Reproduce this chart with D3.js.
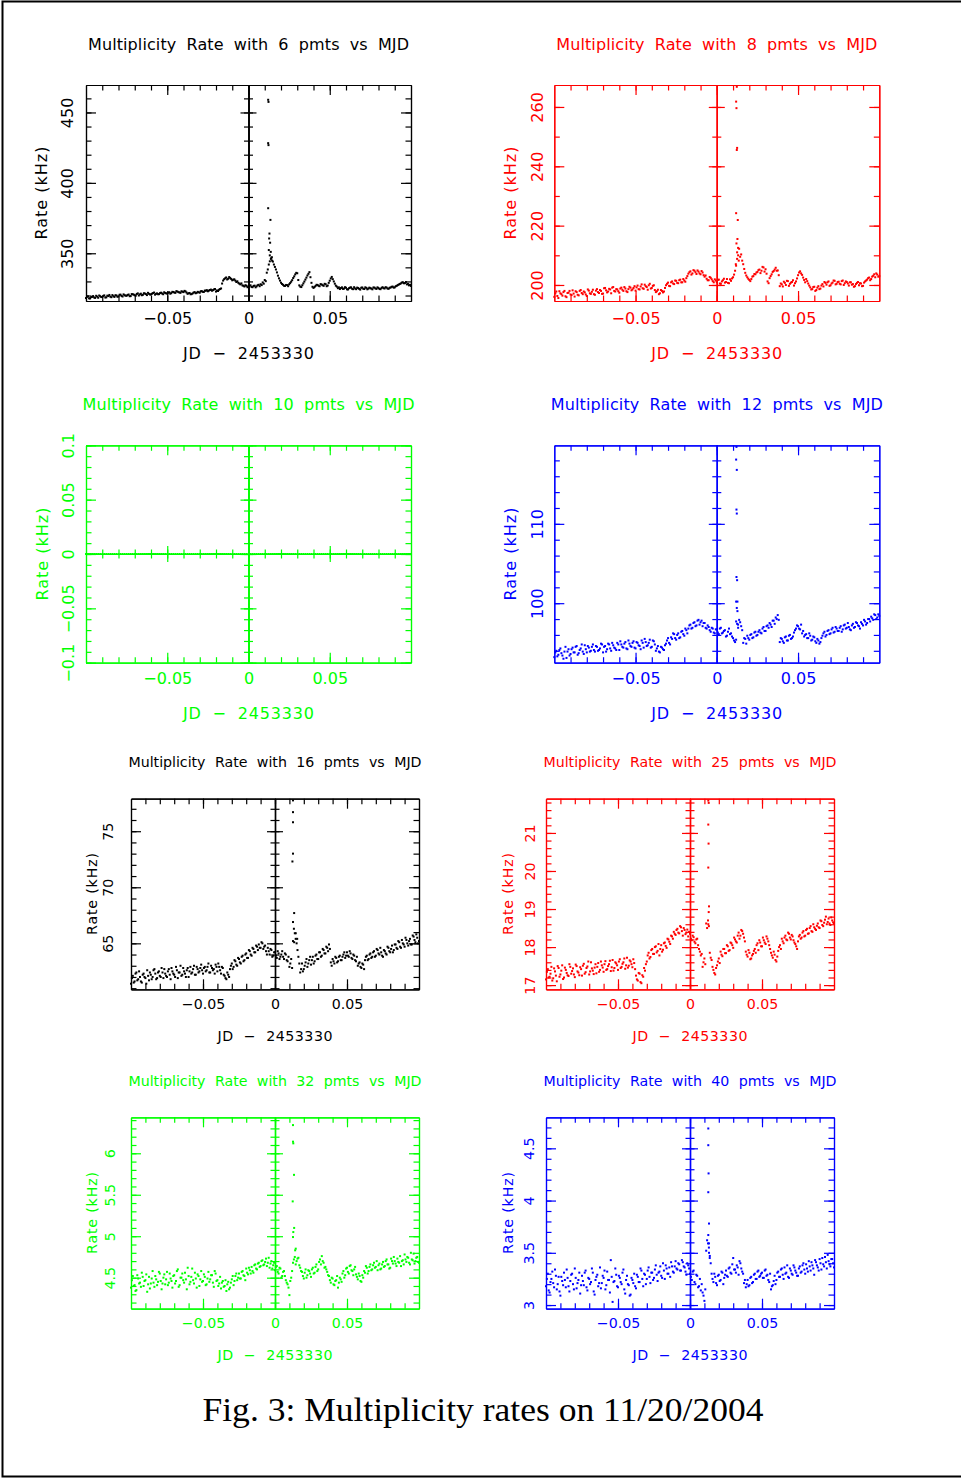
<!DOCTYPE html>
<html>
<head>
<meta charset="utf-8">
<style>
  body { margin: 0; background: #fff; }
  svg { display: block; }
  text { font-family: "DejaVu Sans", sans-serif; }
  .caption { font-family: "Liberation Serif", "DejaVu Serif", serif; }
</style>
</head>
<body>
<div id="fig"></div>
<script src="https://d3js.org/d3.v7.min.js"></script>
<script>
// sample times, JD - 2453330 (one reading every 0.00125 d; a second reading sits half a step later)
var times = d3.range(161).map(function(i){ return -0.1 + i * 0.00125; });
var halfStep = 0.000625;
var xTickLabels = [-0.05, 0, 0.05];

// rates (kHz): two readings per sample time, plus the sparse spike points
var rate6 = [
  318.2, 319.4, 317.9, 319.0, 318.6, 319.8, 318.4, 319.5, 318.9, 320.1, 318.7, 319.6, 319.2, 320.3, 319.0, 320.0, 319.4, 320.6, 319.3, 320.2,
  319.8, 320.7, 319.6, 320.9, 320.2, 321.1, 320.0, 321.3, 320.5, 321.4, 320.3, 321.2, 320.8, 321.7, 320.6, 321.5, 321.0, 322.0, 320.9, 321.8,
  321.4, 322.3, 321.7, 322.5, 321.9, 322.8, 322.2, 323.0, 322.4, 322.9, 321.2, 321.8, 321.0, 322.1, 321.6, 322.6, 322.0, 323.1, 322.5, 323.4,
  323.0, 323.9, 323.4, 324.3, 322.8, 323.2, 324.6, 328.5, 331.6, 332.8, 331.9, 332.4, 330.8, 331.5, 329.6, 329.0, 327.9, 327.2, 326.4, 326.9,
  326.4, 327.2, 325.9, 327.0, 326.5, 327.6, 328.0, 329.3, 331.0, 336.2, 342.0, 346.0, 344.1, 340.3, 336.4, 332.2, 329.1, 327.6, 326.8, 327.4,
  327.9, 329.8, 332.4, 335.0, 335.8, 327.2, 326.0, 328.6, 331.3, 334.2, 336.6, 329.0, 325.4, 326.8, 327.5, 326.6, 327.8, 326.9, 328.0, 327.1,
  330.5, 333.2, 330.0, 327.0, 325.2, 324.6, 325.8, 324.9, 325.5, 324.3, 325.6, 324.8, 325.9, 324.5, 325.3, 324.2, 325.7, 324.6, 325.4, 324.9,
  325.2, 324.4, 325.6, 324.7, 325.3, 324.5, 325.9, 325.0, 325.6, 324.8, 325.7, 326.3, 325.8, 326.9, 327.8, 328.6, 329.4, 328.8, 327.9, 327.2,
  326.8
];
var rate6b = [
  319.1, 318.0, 318.8, 319.6, 318.3, 319.2, 320.0, 318.9, 319.7, 318.6, 319.9, 320.4, 318.8, 319.5, 320.2, 319.1, 320.5, 319.7, 320.8, 319.9,
  320.4, 319.5, 321.0, 320.6, 319.9, 321.5, 320.8, 320.2, 321.6, 321.0, 321.9, 320.7, 321.3, 322.1, 321.2, 320.9, 321.8, 321.4, 322.3, 321.5,
  322.0, 321.3, 322.6, 322.1, 323.1, 322.4, 321.9, 322.7, 323.3, 322.1, 321.6, 320.9, 321.5, 322.4, 321.9, 322.3, 323.0, 322.6, 323.5, 323.8,
  323.5, 324.2, 323.8, 324.6, 323.6, 324.1, 325.0, 330.6, 332.2, 331.4, 333.1, 331.7, 331.2, 330.6, 330.1, 328.4, 328.6, 326.9, 327.3, 325.9,
  327.0, 326.1, 326.8, 325.8, 327.3, 326.6, 327.4, 328.4, 330.2, 338.5, 344.3, 347.2, 342.0, 338.5, 334.1, 330.6, 328.2, 326.9, 327.5, 326.6,
  328.8, 330.9, 333.6, 336.1, 331.0, 326.3, 327.3, 329.9, 332.7, 335.4, 333.0, 326.2, 326.0, 327.6, 326.9, 328.1, 327.3, 328.3, 326.6, 329.0,
  332.1, 331.6, 328.4, 326.3, 325.8, 325.3, 324.7, 325.9, 324.4, 325.2, 325.8, 324.5, 325.0, 325.6, 324.7, 325.5, 324.8, 325.8, 324.4, 325.6,
  324.9, 325.7, 325.0, 325.8, 324.6, 325.4, 325.2, 325.9, 324.9, 325.5, 326.2, 325.6, 326.6, 327.4, 328.2, 329.2, 328.7, 329.6, 328.3, 327.6,
  327.0
];
var spike6 = [[0.0121, 459.0], [0.0123, 457.5], [0.0121, 428.2], [0.0123, 426.8], [0.0121, 382.0], [0.0135, 373.7],
  [0.0129, 364.0], [0.0127, 360.5], [0.0133, 357.5], [0.0125, 352.3], [0.0137, 351.0], [0.0140, 346.5], [0.0145, 344.8], [0.0131, 348.5]];

var rate8 = [
  196.0, 197.8, 195.6, 197.2, 196.4, 198.0, 195.9, 197.4, 196.8, 198.2, 196.1, 197.6, 196.5, 198.3, 196.9, 197.5, 196.3, 198.1, 197.0, 198.4,
  196.7, 198.6, 197.3, 198.0, 197.1, 199.0, 197.5, 198.7, 197.2, 199.3, 197.8, 198.5, 197.4, 199.1, 198.0, 198.8, 197.6, 199.4, 198.2, 199.0,
  198.1, 199.8, 198.5, 200.2, 198.7, 199.6, 198.4, 200.4, 199.0, 199.9, 197.6, 198.4, 197.2, 198.0, 197.8, 199.9, 200.8, 199.6, 201.2, 200.3,
  201.4, 200.6, 201.8, 200.9, 201.5, 202.3, 203.8, 204.6, 203.9, 204.8, 203.7, 204.5, 203.6, 204.2, 202.8, 202.1, 201.6, 202.4, 201.3, 201.9,
  200.9, 201.8, 200.4, 201.6, 200.8, 202.0, 200.6, 201.4, 202.6, 204.8, 208.8, 212.2, 210.3, 207.0, 204.1, 202.6, 201.7, 202.0, 203.0, 203.6,
  204.4, 205.2, 204.8, 205.9, 205.3, 201.2, 202.3, 203.6, 204.7, 205.8, 204.9, 199.6, 200.2, 201.1, 200.0, 201.3, 200.4, 201.0, 199.8, 201.2,
  203.3, 204.6, 203.4, 201.7, 202.0, 200.5, 199.2, 198.6, 199.4, 198.3, 199.6, 198.8, 200.3, 201.0, 200.1, 201.2, 199.9, 200.8, 201.4, 200.4,
  201.1, 200.2, 201.5, 200.6, 201.0, 199.8, 200.9, 200.3, 199.6, 200.7, 199.9, 200.5, 199.7, 201.2, 201.8, 202.5, 202.0, 203.1, 202.6, 203.5,
  203.0
];
var rate8b = [
  197.2, 196.3, 197.9, 196.9, 197.6, 196.2, 197.3, 198.0, 196.6, 197.1, 197.9, 196.7, 198.0, 197.3, 197.8, 196.8, 198.5, 197.2, 197.7, 196.9,
  198.1, 197.6, 198.3, 197.0, 198.9, 198.2, 197.8, 198.5, 199.1, 198.0, 198.6, 197.9, 198.8, 198.4, 199.3, 197.9, 198.6, 199.1, 198.5, 199.6,
  199.2, 198.6, 199.5, 198.9, 200.1, 199.3, 199.9, 198.8, 199.7, 198.3, 197.9, 196.9, 198.3, 197.5, 199.0, 200.4, 199.7, 200.9, 200.5, 201.5,
  200.7, 201.6, 200.9, 202.0, 201.1, 203.0, 204.3, 203.5, 205.0, 204.3, 204.9, 203.9, 204.7, 203.3, 203.2, 201.6, 202.7, 201.9, 200.9, 201.5,
  201.7, 200.5, 201.2, 202.1, 201.0, 200.7, 201.9, 202.2, 203.5, 206.5, 210.0, 209.5, 208.2, 205.4, 203.2, 202.1, 201.3, 202.8, 203.7, 204.2,
  205.0, 204.0, 206.1, 204.5, 203.8, 200.6, 203.0, 204.4, 205.2, 204.8, 203.3, 200.5, 199.5, 200.7, 201.4, 199.7, 200.8, 201.6, 200.6, 202.2,
  204.2, 203.9, 202.5, 200.9, 201.3, 199.8, 198.5, 199.3, 198.0, 199.1, 198.6, 199.8, 199.5, 200.7, 200.9, 199.7, 200.5, 201.5, 200.2, 201.0,
  200.4, 201.3, 200.0, 201.2, 200.5, 200.9, 200.1, 199.4, 200.3, 201.0, 200.6, 199.6, 200.8, 201.5, 202.3, 201.6, 202.8, 203.6, 203.9, 202.8,
  203.6
];
var spike8 = [[0.0123, 266.8], [0.0119, 261.8], [0.0121, 259.6], [0.0125, 246.2], [0.0123, 245.5], [0.0119, 224.2],
  [0.0129, 221.9], [0.0127, 215.5], [0.0121, 214.0], [0.0131, 212.5], [0.0125, 211.0], [0.0135, 208.2], [0.0117, 207.0]];

var rate10 = [
  0, 0, 0, 0, 0, 0, 0, 0, 0, 0, 0, 0, 0, 0, 0, 0, 0, 0, 0, 0,
  0, 0, 0, 0, 0, 0, 0, 0, 0, 0, 0, 0, 0, 0, 0, 0, 0, 0, 0, 0,
  0, 0, 0, 0, 0, 0, 0, 0, 0, 0, 0, 0, 0, 0, 0, 0, 0, 0, 0, 0,
  0, 0, 0, 0, 0, 0, 0, 0, 0, 0, 0, 0, 0, 0, 0, 0, 0, 0, 0, 0,
  0, 0, 0, 0, 0, 0, 0, 0, 0, 0, 0, 0, 0, 0, 0, 0, 0, 0, 0, 0,
  0, 0, 0, 0, 0, 0, 0, 0, 0, 0, 0, 0, 0, 0, 0, 0, 0, 0, 0, 0,
  0, 0, 0, 0, 0, 0, 0, 0, 0, 0, 0, 0, 0, 0, 0, 0, 0, 0, 0, 0,
  0, 0, 0, 0, 0, 0, 0, 0, 0, 0, 0, 0, 0, 0, 0, 0, 0, 0, 0, 0,
  0
];
var rate10b = [];
var spike10 = [];

var rate12 = [
  93.2, 94.0, 93.5, 94.3, 93.4, 93.9, 93.1, 94.2, 93.6, 94.4, 93.8, 94.6, 93.7, 94.3, 93.9, 94.7, 93.8, 94.4, 94.0, 94.8,
  93.9, 94.5, 94.1, 94.9, 93.8, 94.6, 94.2, 94.8, 94.0, 94.7, 94.3, 95.0, 94.1, 94.8, 94.4, 95.1, 94.2, 94.9, 94.5, 95.2,
  94.3, 95.0, 94.6, 95.3, 94.4, 95.1, 94.7, 95.4, 94.5, 95.2, 94.0, 94.6, 93.8, 94.4, 94.1, 94.9, 95.6, 94.8, 95.5, 96.1,
  95.4, 96.2, 95.7, 96.5, 95.9, 96.6, 96.8, 97.3, 96.9, 97.6, 97.2, 97.9, 97.6, 97.1, 97.5, 96.8, 97.0, 96.4, 96.8, 96.2,
  96.7, 96.1, 96.9, 96.3, 96.6, 95.9, 96.8, 96.2, 95.6, 95.1, 97.4, 97.9, 97.1, 95.0, 95.5, 95.9, 95.4, 96.1, 95.7, 96.4,
  96.0, 96.6, 96.2, 97.0, 96.5, 97.2, 97.5, 97.0, 97.8, 98.2, 98.5, 95.1, 95.5, 95.0, 95.8, 95.3, 96.0, 95.6, 96.3, 96.8,
  97.1, 96.7, 96.2, 95.8, 96.1, 95.6, 95.9, 95.4, 95.7, 95.0, 95.3, 95.1, 95.9, 96.4, 96.0, 96.6, 96.2, 96.9, 96.4, 96.8,
  96.5, 97.1, 96.7, 97.3, 96.9, 97.0, 96.6, 97.4, 97.0, 97.5, 97.1, 97.6, 97.2, 97.7, 97.5, 98.0, 98.3, 97.9, 98.5, 98.2,
  98.4
];
var rate12b = [
  93.8, 93.3, 94.1, 93.7, 93.0, 94.5, 93.9, 93.4, 94.2, 93.8, 94.5, 93.5, 94.1, 94.8, 93.6, 94.2, 94.6, 93.9, 94.5, 94.1,
  94.6, 94.0, 94.3, 94.8, 94.5, 93.9, 94.9, 94.3, 95.0, 94.4, 94.1, 94.8, 95.2, 94.5, 94.9, 94.3, 95.3, 94.6, 95.0, 94.4,
  95.1, 94.7, 94.2, 95.0, 95.5, 94.6, 95.0, 94.4, 95.3, 94.8, 94.3, 93.9, 94.5, 94.2, 94.7, 95.3, 95.0, 95.7, 96.2, 95.6,
  96.0, 95.6, 96.4, 96.1, 96.8, 96.2, 97.2, 96.8, 97.5, 97.1, 97.8, 97.3, 97.8, 97.5, 96.9, 97.2, 96.6, 96.9, 96.3, 96.7,
  96.3, 96.8, 96.2, 96.5, 95.8, 96.4, 96.1, 95.8, 95.3, 95.4, 96.9, 97.6, 96.6, 95.6, 94.9, 95.6, 96.0, 95.6, 96.3, 95.9,
  96.4, 96.3, 96.8, 96.5, 97.1, 96.9, 97.3, 97.8, 97.4, 98.0, 97.9, 95.6, 95.2, 95.7, 95.3, 95.9, 95.5, 95.8, 96.6, 97.2,
  96.8, 97.3, 96.5, 96.0, 95.6, 96.2, 95.3, 95.8, 95.2, 95.5, 94.9, 95.6, 96.2, 95.8, 96.5, 96.1, 96.7, 96.3, 97.0, 96.5,
  96.9, 96.4, 97.2, 96.8, 97.5, 96.7, 97.2, 96.9, 97.6, 97.2, 96.8, 97.4, 97.9, 97.3, 98.0, 97.7, 98.1, 98.6, 98.0, 98.6,
  98.1
];
var spike12 = [[0.0121, 119.7], [0.0119, 118.1], [0.0123, 116.8], [0.0121, 111.8], [0.0123, 111.3], [0.0121, 103.3],
  [0.0125, 102.9], [0.0119, 100.2], [0.0127, 100.2], [0.0123, 99.4], [0.0127, 99.0], [0.0119, 97.7], [0.0131, 97.3]];

var rate16 = [
  61.4, 62.1, 61.6, 62.4, 61.8, 62.0, 61.5, 62.3, 61.9, 62.6, 61.7, 62.2, 62.0, 62.7, 61.8, 62.4, 62.1, 62.8, 61.9, 62.3,
  62.0, 62.7, 61.8, 62.5, 62.2, 62.9, 61.9, 62.4, 62.1, 62.8, 62.3, 62.6, 62.0, 62.9, 62.4, 63.0, 62.2, 62.7, 62.5, 63.1,
  62.3, 62.9, 62.6, 63.2, 62.4, 62.8, 62.7, 63.1, 62.5, 62.9, 62.3, 62.8, 62.1, 61.8, 62.2, 62.7, 63.2, 62.9, 63.4, 63.0,
  63.6, 63.2, 63.9, 63.5, 64.1, 63.7, 64.3, 63.9, 64.5, 64.2, 64.7, 64.9, 64.6, 65.0, 64.7, 64.3, 64.6, 64.0, 64.4, 63.9,
  64.2, 63.7, 64.1, 63.8, 64.3, 63.6, 64.0, 63.4, 62.9, 63.6, 65.2, 65.9, 65.0, 63.8, 62.4, 63.2, 62.7, 63.3, 62.9, 63.5,
  63.1, 63.8, 63.4, 64.0, 63.6, 64.2, 63.9, 64.4, 64.1, 64.6, 64.9, 63.3, 63.6, 63.2, 63.7, 63.4, 63.9, 63.5, 64.0, 63.7,
  64.2, 63.8, 64.1, 63.6, 63.9, 63.4, 63.0, 63.3, 62.8, 63.1, 63.5, 63.9, 63.6, 64.1, 63.8, 64.3, 63.9, 64.4, 64.0, 64.2,
  63.8, 64.3, 64.0, 64.6, 64.2, 64.8, 64.4, 64.9, 64.5, 65.1, 64.6, 65.0, 64.7, 65.3, 64.8, 65.4, 64.9, 65.6, 65.1, 65.5,
  65.2
];
var rate16b = [
  61.9, 61.5, 62.3, 61.7, 62.5, 61.6, 62.2, 62.0, 61.4, 62.1, 62.4, 61.8, 62.6, 62.3, 61.9, 62.5, 62.0, 62.4, 62.7, 62.1,
  62.5, 62.2, 62.8, 62.3, 62.0, 62.6, 62.4, 63.0, 62.2, 62.5, 62.0, 62.8, 62.5, 62.3, 62.7, 62.2, 62.9, 62.4, 62.8, 62.6,
  62.8, 62.5, 62.9, 62.4, 63.0, 62.6, 62.3, 62.9, 63.2, 62.6, 62.9, 62.2, 61.9, 62.4, 62.0, 63.0, 62.7, 63.5, 63.1, 63.7,
  63.3, 63.8, 63.4, 64.0, 63.7, 64.4, 64.0, 64.6, 64.2, 64.8, 64.4, 64.6, 65.1, 64.5, 64.8, 64.0, 64.3, 64.5, 63.8, 64.2,
  63.9, 64.3, 63.6, 64.0, 63.8, 64.1, 63.5, 63.8, 63.2, 62.8, 66.3, 65.4, 64.4, 63.2, 62.7, 62.5, 63.0, 63.6, 63.2, 63.8,
  63.5, 63.2, 63.9, 63.6, 64.2, 63.8, 64.5, 64.1, 64.7, 64.3, 64.5, 63.0, 63.4, 63.8, 63.3, 63.8, 63.5, 63.8, 64.2, 63.9,
  63.9, 64.3, 63.7, 64.0, 63.5, 63.8, 63.2, 62.9, 63.2, 62.7, 63.8, 63.5, 64.0, 63.7, 64.2, 63.8, 64.5, 64.1, 64.6, 63.9,
  64.4, 64.1, 64.7, 64.3, 64.5, 64.2, 64.9, 64.6, 65.2, 64.7, 65.3, 64.9, 65.5, 65.0, 65.2, 64.9, 65.7, 65.3, 65.8, 65.0,
  65.5
];
var spike16 = [[0.0125, 77.75], [0.0125, 76.7], [0.0125, 75.8], [0.0125, 73.0], [0.0121, 72.3], [0.0133, 67.7],
  [0.0125, 66.9], [0.0144, 65.9], [0.0133, 65.1], [0.0154, 65.4]];

var rate25 = [
  17.15, 17.42, 17.22, 17.48, 17.18, 17.36, 17.10, 17.45, 17.28, 17.52, 17.20, 17.40, 17.26, 17.55, 17.30, 17.44, 17.21, 17.50, 17.33, 17.47,
  17.25, 17.56, 17.34, 17.49, 17.28, 17.60, 17.38, 17.46, 17.31, 17.58, 17.40, 17.52, 17.35, 17.63, 17.42, 17.55, 17.37, 17.66, 17.45, 17.57,
  17.40, 17.68, 17.48, 17.60, 17.43, 17.72, 17.51, 17.62, 17.47, 17.58, 17.25, 17.12, 17.30, 17.05, 17.22, 17.38, 17.62, 17.85, 17.74, 17.95,
  17.82, 18.02, 17.90, 17.78, 18.05, 17.93, 18.12, 17.98, 18.20, 18.08, 18.28, 18.40, 18.32, 18.48, 18.36, 18.52, 18.30, 18.45, 18.38, 18.28,
  18.35, 18.18, 18.26, 18.10, 18.22, 17.95, 17.78, 17.48, 17.70, 18.62, 18.70, 17.85, 17.66, 17.40, 17.28, 17.52, 17.70, 17.88, 17.76, 17.95,
  17.84, 18.02, 17.92, 18.10, 17.98, 18.20, 18.12, 18.38, 18.30, 18.42, 18.25, 17.88, 17.75, 17.85, 17.70, 17.82, 17.95, 18.05, 17.92, 18.12,
  18.02, 18.18, 18.08, 18.22, 18.05, 17.85, 17.72, 17.80, 17.62, 17.90, 18.05, 18.22, 18.10, 18.30, 18.18, 18.35, 18.20, 18.28, 18.12, 18.02,
  18.15, 18.32, 18.25, 18.42, 18.30, 18.48, 18.36, 18.55, 18.40, 18.52, 18.45, 18.62, 18.50, 18.68, 18.55, 18.72, 18.60, 18.75, 18.58, 18.70,
  18.62
];
var rate25b = [
  17.35, 17.20, 17.30, 17.12, 17.44, 17.25, 17.50, 17.22, 17.38, 17.16, 17.46, 17.32, 17.24, 17.48, 17.37, 17.28, 17.54, 17.36, 17.26, 17.42,
  17.51, 17.30, 17.45, 17.62, 17.36, 17.44, 17.29, 17.55, 17.48, 17.35, 17.62, 17.46, 17.55, 17.40, 17.50, 17.64, 17.47, 17.38, 17.60, 17.52,
  17.62, 17.45, 17.56, 17.70, 17.52, 17.46, 17.65, 17.55, 17.68, 17.42, 17.15, 17.32, 17.08, 17.26, 17.45, 17.55, 17.78, 17.70, 17.92, 17.82,
  18.00, 17.86, 18.08, 17.95, 17.88, 18.10, 18.03, 18.22, 18.14, 18.30, 18.22, 18.35, 18.45, 18.38, 18.55, 18.42, 18.50, 18.34, 18.46, 18.40,
  18.22, 18.30, 18.14, 18.20, 18.05, 17.88, 17.82, 17.60, 17.55, 18.50, 18.55, 17.72, 17.48, 17.32, 17.45, 17.62, 17.58, 17.80, 17.95, 17.84,
  18.05, 17.90, 18.12, 18.05, 18.25, 18.15, 18.30, 18.22, 18.45, 18.35, 18.15, 17.80, 17.92, 17.68, 17.78, 17.90, 17.85, 18.10, 18.18, 18.02,
  18.25, 18.12, 18.28, 18.15, 17.95, 17.78, 17.88, 17.66, 17.75, 18.00, 17.95, 18.15, 18.25, 18.20, 18.38, 18.25, 18.32, 18.18, 18.08, 17.95,
  18.28, 18.22, 18.38, 18.28, 18.45, 18.35, 18.50, 18.42, 18.60, 18.48, 18.56, 18.52, 18.70, 18.58, 18.64, 18.80, 18.66, 18.62, 18.78, 18.65,
  18.72
];
var spike25 = [[0.0127, 21.85], [0.0130, 21.79], [0.0127, 21.22], [0.0129, 20.72], [0.0127, 20.09], [0.0132, 19.07],
  [0.0130, 18.92], [0.0127, 18.60]];

var rate32 = [
  4.38, 4.52, 4.41, 4.35, 4.49, 4.44, 4.56, 4.40, 4.47, 4.33, 4.51, 4.43, 4.58, 4.39, 4.48, 4.45, 4.55, 4.36, 4.50, 4.42,
  4.57, 4.44, 4.49, 4.38, 4.53, 4.46, 4.60, 4.41, 4.50, 4.47, 4.56, 4.36, 4.52, 4.45, 4.61, 4.43, 4.49, 4.54, 4.40, 4.58,
  4.46, 4.51, 4.42, 4.57, 4.48, 4.53, 4.39, 4.55, 4.47, 4.43, 4.37, 4.46, 4.40, 4.34, 4.45, 4.38, 4.48, 4.41, 4.52, 4.47,
  4.55, 4.49, 4.58, 4.52, 4.61, 4.54, 4.59, 4.63, 4.56, 4.66, 4.60, 4.68, 4.64, 4.71, 4.66, 4.73, 4.68, 4.62, 4.70, 4.65,
  4.59, 4.64, 4.55, 4.61, 4.52, 4.58, 4.47, 4.42, 4.29, 4.50, 4.68, 4.75, 4.70, 4.74, 4.62, 4.57, 4.49, 4.60, 4.53, 4.58,
  4.51, 4.62, 4.56, 4.66, 4.60, 4.72, 4.76, 4.68, 4.63, 4.57, 4.52, 4.44, 4.49, 4.41, 4.47, 4.38, 4.50, 4.45, 4.58, 4.53,
  4.62, 4.55, 4.65, 4.58, 4.60, 4.54, 4.48, 4.52, 4.45, 4.50, 4.56, 4.62, 4.58, 4.66, 4.60, 4.68, 4.63, 4.59, 4.67, 4.61,
  4.69, 4.64, 4.72, 4.66, 4.62, 4.70, 4.75, 4.67, 4.73, 4.68, 4.64, 4.71, 4.78, 4.69, 4.74, 4.66, 4.72, 4.79, 4.70, 4.75,
  4.68
];
var rate32b = [
  4.47, 4.40, 4.34, 4.53, 4.43, 4.39, 4.51, 4.46, 4.54, 4.42, 4.37, 4.49, 4.44, 4.52, 4.41, 4.57, 4.46, 4.43, 4.54, 4.48,
  4.41, 4.55, 4.46, 4.52, 4.43, 4.58, 4.39, 4.50, 4.55, 4.44, 4.48, 4.62, 4.42, 4.51, 4.47, 4.56, 4.38, 4.52, 4.48, 4.45,
  4.54, 4.41, 4.49, 4.45, 4.53, 4.44, 4.58, 4.46, 4.40, 4.51, 4.44, 4.39, 4.47, 4.42, 4.36, 4.44, 4.52, 4.46, 4.55, 4.50,
  4.49, 4.57, 4.53, 4.47, 4.56, 4.62, 4.55, 4.58, 4.65, 4.61, 4.67, 4.63, 4.70, 4.65, 4.69, 4.64, 4.74, 4.67, 4.61, 4.68,
  4.63, 4.57, 4.62, 4.50, 4.57, 4.52, 4.44, 4.38, 4.46, 4.58, 4.72, 4.66, 4.73, 4.65, 4.58, 4.52, 4.56, 4.50, 4.59, 4.55,
  4.60, 4.55, 4.63, 4.58, 4.69, 4.66, 4.70, 4.62, 4.60, 4.53, 4.47, 4.50, 4.42, 4.46, 4.52, 4.44, 4.48, 4.55, 4.50, 4.61,
  4.57, 4.64, 4.59, 4.53, 4.63, 4.51, 4.55, 4.46, 4.53, 4.58, 4.64, 4.55, 4.63, 4.59, 4.65, 4.62, 4.70, 4.65, 4.60, 4.66,
  4.63, 4.70, 4.66, 4.61, 4.73, 4.67, 4.70, 4.64, 4.69, 4.76, 4.70, 4.66, 4.72, 4.75, 4.68, 4.80, 4.71, 4.67, 4.74, 4.69,
  4.73
];
var spike32 = [[0.0125, 6.34], [0.0125, 6.14], [0.0127, 6.12], [0.0132, 5.74], [0.0123, 5.42], [0.0133, 5.10],
  [0.0127, 5.05], [0.0125, 4.99], [0.0144, 4.85], [0.0140, 4.83]];

var rate40 = [
  3.18, 3.30, 3.12, 3.25, 3.21, 3.34, 3.15, 3.27, 3.09, 3.23, 3.31, 3.17, 3.26, 3.13, 3.29, 3.20, 3.35, 3.16, 3.24, 3.11,
  3.28, 3.19, 3.33, 3.14, 3.25, 3.22, 3.31, 3.10, 3.27, 3.18, 3.36, 3.21, 3.26, 3.15, 3.32, 3.24, 3.43, 3.03, 3.23, 3.29,
  3.17, 3.26, 3.20, 3.34, 3.11, 3.28, 3.19, 3.10, 3.24, 3.30, 3.16, 3.27, 3.22, 3.33, 3.18, 3.29, 3.25, 3.36, 3.21, 3.31,
  3.26, 3.38, 3.23, 3.32, 3.28, 3.40, 3.25, 3.35, 3.30, 3.27, 3.37, 3.31, 3.42, 3.34, 3.39, 3.33, 3.41, 3.36, 3.29, 3.38,
  3.30, 3.24, 3.33, 3.20, 3.28, 3.18, 3.14, 3.12, 3.04, 3.52, 3.59, 3.47, 3.30, 3.22, 3.27, 3.19, 3.29, 3.24, 3.31, 3.26,
  3.33, 3.27, 3.36, 3.30, 3.45, 3.34, 3.38, 3.29, 3.40, 3.32, 3.21, 3.17, 3.24, 3.19, 3.27, 3.22, 3.30, 3.25, 3.33, 3.28,
  3.31, 3.26, 3.34, 3.29, 3.22, 3.15, 3.19, 3.28, 3.24, 3.32, 3.27, 3.35, 3.25, 3.30, 3.38, 3.26, 3.33, 3.29, 3.36, 3.31,
  3.28, 3.37, 3.32, 3.40, 3.30, 3.35, 3.42, 3.33, 3.38, 3.29, 3.41, 3.36, 3.44, 3.34, 3.39, 3.46, 3.35, 3.42, 3.37, 3.44,
  3.36
];
var rate40b = [
  3.25, 3.14, 3.22, 3.32, 3.17, 3.28, 3.20, 3.13, 3.27, 3.19, 3.24, 3.34, 3.18, 3.23, 3.30, 3.15, 3.26, 3.21, 3.31, 3.19,
  3.23, 3.31, 3.17, 3.26, 3.20, 3.35, 3.13, 3.24, 3.29, 3.21, 3.16, 3.28, 3.33, 3.19, 3.24, 3.12, 3.27, 3.22, 3.35, 3.18,
  3.28, 3.22, 3.31, 3.15, 3.24, 3.20, 3.09, 3.26, 3.21, 3.18, 3.29, 3.22, 3.35, 3.25, 3.30, 3.20, 3.33, 3.27, 3.31, 3.24,
  3.34, 3.29, 3.31, 3.37, 3.26, 3.33, 3.38, 3.30, 3.36, 3.41, 3.32, 3.37, 3.35, 3.40, 3.33, 3.43, 3.37, 3.32, 3.40, 3.35,
  3.27, 3.32, 3.22, 3.29, 3.17, 3.25, 3.20, 3.09, 3.15, 3.62, 3.55, 3.40, 3.25, 3.30, 3.21, 3.28, 3.23, 3.32, 3.20, 3.29,
  3.28, 3.35, 3.31, 3.39, 3.34, 3.31, 3.36, 3.42, 3.35, 3.30, 3.24, 3.20, 3.18, 3.26, 3.21, 3.29, 3.25, 3.32, 3.27, 3.30,
  3.26, 3.33, 3.28, 3.24, 3.30, 3.18, 3.23, 3.20, 3.31, 3.27, 3.34, 3.29, 3.36, 3.31, 3.27, 3.35, 3.30, 3.38, 3.33, 3.28,
  3.35, 3.31, 3.38, 3.34, 3.39, 3.32, 3.37, 3.41, 3.35, 3.43, 3.38, 3.33, 3.40, 3.45, 3.37, 3.41, 3.48, 3.39, 3.44, 3.40,
  3.42
];
var spike40 = [[0.0127, 4.69], [0.0127, 4.53], [0.0129, 4.26], [0.0127, 4.08], [0.0132, 3.78], [0.0127, 3.67],
  [0.0132, 3.59], [0.0132, 3.50], [0.0137, 3.45]];

var pmts = [6, 8, 10, 12, 16, 25, 32, 40];
var colors = ["#000000", "#ff0000", "#00ff00", "#0000ff", "#000000", "#ff0000", "#00ff00", "#0000ff"];
var rates = [rate6, rate8, rate10, rate12, rate16, rate25, rate32, rate40];
var ratesB = [rate6b, rate8b, rate10b, rate12b, rate16b, rate25b, rate32b, rate40b];
var spikes = [spike6, spike8, spike10, spike12, spike16, spike25, spike32, spike40];
var yDomains = [[316.1, 469.5], [194.6, 267.4], [-0.1, 0.1], [92.5, 119.9], [60.9, 77.9], [16.89, 21.9], [4.126, 6.434], [2.965, 4.797]];
var yMajorSteps = [50, 20, 0.05, 10, 5, 1, 0.5, 0.5];
var yMinorSteps = [10, 10, 0.01, 2, 1, 0.2, 0.1, 0.1];

// page layout, one entry per panel
var layout = [
  {left: 86, top: 85, w: 325, h: 216, titleY: 44, tickY: 318, xTitleY: 353, tickX: 67, yTitleX: 41, font: 16, titleW: 321, xTitleW: 131, yTitleW: 93},
  {left: 554.3, top: 85, w: 325, h: 216, titleY: 44, tickY: 318, xTitleY: 353, tickX: 537, yTitleX: 510, font: 16, titleW: 321, xTitleW: 131, yTitleW: 93},
  {left: 86, top: 445.3, w: 325, h: 217.4, titleY: 404, tickY: 678, xTitleY: 713, tickX: 68, yTitleX: 42, font: 16, titleW: 332, xTitleW: 131, yTitleW: 93},
  {left: 554.3, top: 445.3, w: 325, h: 217.4, titleY: 404, tickY: 678, xTitleY: 713, tickX: 537, yTitleX: 510, font: 16, titleW: 332, xTitleW: 131, yTitleW: 93},
  {left: 131, top: 798.7, w: 288, h: 190.6, titleY: 762, tickY: 1004, xTitleY: 1036, tickX: 108, yTitleX: 92, font: 14.2, titleW: 293, xTitleW: 115, yTitleW: 82},
  {left: 546, top: 798.7, w: 288, h: 190.6, titleY: 762, tickY: 1004, xTitleY: 1036, tickX: 530, yTitleX: 508, font: 14.2, titleW: 293, xTitleW: 115, yTitleW: 82},
  {left: 131, top: 1117.3, w: 288, h: 191.4, titleY: 1081, tickY: 1323, xTitleY: 1355, tickX: 110, yTitleX: 92, font: 14.2, titleW: 293, xTitleW: 115, yTitleW: 82},
  {left: 546, top: 1117.3, w: 288, h: 191.4, titleY: 1081, tickY: 1323, xTitleY: 1355, tickX: 529, yTitleX: 508, font: 14.2, titleW: 293, xTitleW: 115, yTitleW: 82}
];

var W = 961, H = 1479;
var svg = d3.select("#fig").append("svg").attr("width", W).attr("height", H);

// page frame (left, top, bottom edges)
svg.append("path")
    .attr("d", "M961,1.5H2.5V1476.5H961")
    .attr("fill", "none").attr("stroke", "#000").attr("stroke-width", 2);

function stepTicks(dom, step) {
  var lo = Math.ceil(dom[0] / step - 1e-6), hi = Math.floor(dom[1] / step + 1e-6);
  return d3.range(lo, hi + 1).map(function(k){ return +(k * step).toFixed(6); });
}
function fmt(d) { return d < 0 ? "\u2212" + Math.abs(d) : String(d); }

var majorLen = 10, minorLen = 5.5, zMajor = 8, zMinor = 4.5;

function ticks(g, axis, values, size, transform) {
  return g.append("g")
      .attr("transform", transform || null)
      .call(axis.tickValues(values).tickSize(size).tickSizeOuter(0).tickFormat(""));
}

function drawPanel(k) {
  var L = layout[k];
  var g = svg.append("g")
      .attr("transform", "translate(" + L.left + "," + L.top + ")")
      .style("color", colors[k]);

  var x = d3.scaleLinear().domain([-0.1, 0.1]).range([0, L.w]);
  var y = d3.scaleLinear().domain(yDomains[k]).range([L.h, 0]);

  var xMinor = stepTicks([-0.0999, 0.0999], 0.01);
  var yMajor = stepTicks(yDomains[k], yMajorSteps[k]);
  var yMinor = stepTicks(yDomains[k], yMinorSteps[k]);

  // points
  var s = 2;
  var pts = rates[k].map(function(v, i){ return [times[i], v]; })
      .concat(ratesB[k].map(function(v, i){ return [times[i] + halfStep, v]; }))
      .filter(function(d){ return d[0] <= 0.1; })
      .concat(spikes[k]);
  g.append("g").selectAll("rect")
      .data(pts)
    .enter().append("rect")
      .attr("x", function(d){ return x(d[0]) - s / 2; })
      .attr("y", function(d){ return y(d[1]) - s / 2; })
      .attr("width", s)
      .attr("height", s)
      .attr("fill", colors[k]);

  // frame, ticks pointing inwards
  var bottom = g.append("g")
      .attr("transform", "translate(0," + L.h + ")")
      .call(d3.axisBottom(x).tickValues(xTickLabels).tickSize(-majorLen).tickSizeOuter(0).tickFormat(fmt));
  bottom.selectAll("text").attr("y", L.tickY - L.top - L.h).attr("dy", "0.35em");
  ticks(g, d3.axisBottom(x), xMinor, -minorLen, "translate(0," + L.h + ")");
  ticks(g, d3.axisTop(x), xTickLabels, -majorLen);
  ticks(g, d3.axisTop(x), xMinor, -minorLen);

  var left = g.append("g")
      .call(d3.axisLeft(y).tickValues(yMajor).tickSize(-majorLen).tickSizeOuter(0).tickFormat(fmt));
  left.selectAll("text")
      .attr("x", 0)
      .attr("y", L.tickX - L.left)
      .attr("dy", "0.35em")
      .attr("transform", "rotate(-90)")
      .style("text-anchor", "middle");
  ticks(g, d3.axisLeft(y), yMinor, -minorLen);
  ticks(g, d3.axisRight(y), yMajor, -majorLen, "translate(" + L.w + ",0)");
  ticks(g, d3.axisRight(y), yMinor, -minorLen, "translate(" + L.w + ",0)");

  // zero axes with ticks on both sides
  var x0 = "translate(" + x(0) + ",0)";
  ticks(g, d3.axisLeft(y), yMajor, zMajor, x0);
  ticks(g, d3.axisRight(y), yMajor, zMajor, x0);
  ticks(g, d3.axisLeft(y), yMinor, zMinor, x0);
  ticks(g, d3.axisRight(y), yMinor, zMinor, x0);
  if (yDomains[k][0] < 0 && yDomains[k][1] > 0) {
    var y0 = "translate(0," + y(0) + ")";
    ticks(g, d3.axisTop(x), xTickLabels, zMajor, y0);
    ticks(g, d3.axisBottom(x), xTickLabels, zMajor, y0);
    ticks(g, d3.axisTop(x), xMinor, zMinor, y0);
    ticks(g, d3.axisBottom(x), xMinor, zMinor, y0);
  }

  g.selectAll("path, line").attr("stroke-width", 1.2);
  g.selectAll("g").attr("font-size", null).attr("font-family", null);
  g.selectAll("text").style("font-size", L.font + "px");

  // titles
  var cx = L.w / 2, cy = L.h / 2;
  g.append("text")
      .attr("x", cx).attr("y", L.titleY - L.top).attr("dy", "0.35em")
      .attr("text-anchor", "middle")
      .attr("textLength", L.titleW).attr("lengthAdjust", "spacing")
      .attr("fill", colors[k])
      .style("font-size", L.font + "px")
      .style("word-spacing", "5px")
      .text("Multiplicity Rate with " + pmts[k] + " pmts vs MJD");
  g.append("text")
      .attr("x", cx).attr("y", L.xTitleY - L.top).attr("dy", "0.35em")
      .attr("text-anchor", "middle")
      .attr("textLength", L.xTitleW).attr("lengthAdjust", "spacing")
      .attr("fill", colors[k])
      .style("font-size", L.font + "px")
      .style("word-spacing", "5px")
      .text("JD \u2212 2453330");
  g.append("text")
      .attr("transform", "translate(" + (L.yTitleX - L.left) + "," + cy + ") rotate(-90)")
      .attr("dy", "0.35em")
      .attr("text-anchor", "middle")
      .attr("textLength", L.yTitleW).attr("lengthAdjust", "spacing")
      .attr("fill", colors[k])
      .style("font-size", L.font + "px")
      .text("Rate (kHz)");
}

pmts.forEach(function(d, k){ drawPanel(k); });

svg.append("text")
    .attr("class", "caption")
    .attr("x", 483).attr("y", 1421)
    .attr("text-anchor", "middle")
    .attr("textLength", 561).attr("lengthAdjust", "spacingAndGlyphs")
    .style("font-size", "34px")
    .text("Fig. 3: Multiplicity rates on 11/20/2004");
</script>
</body>
</html>
